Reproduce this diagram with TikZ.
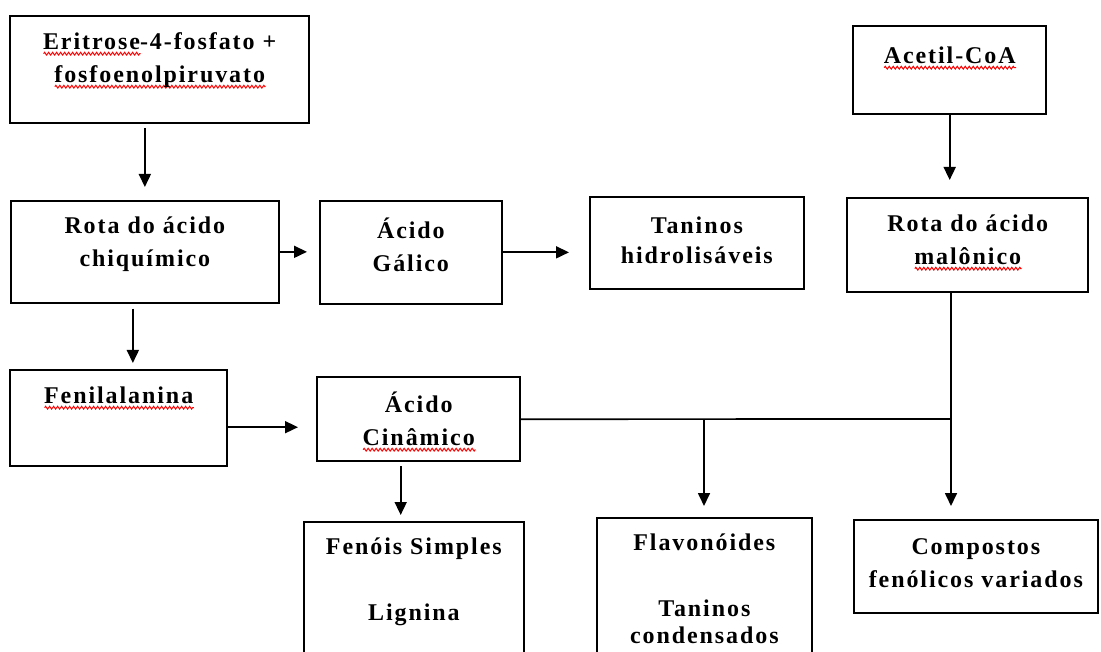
\documentclass[tikz,border=0pt]{standalone}
\usepackage{fontspec}
\setmainfont{Liberation Serif}[LetterSpace=8]
\usetikzlibrary{arrows.meta, decorations.pathmorphing}
\newcommand{\redwave}[1]{\setbox0=\hbox{#1}\edef\wavelen{\the\wd0}\leavevmode\rlap{\tikz[baseline=0pt]\draw[red, line width=1pt, decorate, decoration={zigzag, amplitude=1.4pt, segment length=4pt}] (0pt,-4.5pt) -- (\wavelen,-4.5pt);}\box0}
\begin{document}
\begin{tikzpicture}[x=1pt, y=-1pt, line width=1.7pt,
  bx/.style={draw, anchor=north west, align=center, inner xsep=4pt, inner ysep=17pt,
    text height=16pt, font=\bfseries\fontsize{24}{33}\selectfont},
  arr/.style={-{Triangle[length=13pt,width=12pt]}}]
\useasboundingbox (0,0) rectangle (1101,652);
\clip (0,0) rectangle (1101,652);
\fill[white] (0,0) rectangle (1101,652);
\node[bx, text width=291pt, text depth=57pt] (B_0_0) at (10,16) {\redwave{Eritrose}-4-fosfato +\\\redwave{fosfoenolpiruvato}};
\node[bx, text width=185pt, text height=20pt, text depth=34pt] (B_0_3) at (853,26) {\redwave{Acetil-CoA}};
\node[bx, text width=260pt, text depth=52pt] (B_1_0) at (10,200) {Rota do ácido\\chiquímico};
\node[bx, text width=174pt, text height=21pt, text depth=48pt] (B_1_1) at (319,200) {Ácido\\Gálico};
\node[bx, text width=206pt, text height=20pt, text depth=38pt] (B_1_2) at (589,196) {Taninos\\[-3pt]hidrolisáveis};
\node[bx, text width=233pt, text depth=44pt] (B_1_3) at (847,198) {Rota do ácido\\\redwave{malônico}};
\node[bx, text width=209pt, text depth=46pt] (B_2_0) at (10,370) {\redwave{Fenilalanina}};
\node[bx, text width=195pt, text height=18pt, text depth=32pt] (B_2_1) at (317,377) {Ácido\\\redwave{Cinâmico}};
\node[bx, text width=212pt, text depth=89pt] (B_3_1) at (303,521) {Fenóis Simples\\[33pt]Lignina};
\node[bx, text width=207pt, text depth=93pt] (B_3_2) at (596,517) {Flavonóides\\[33pt]Taninos\\[-6pt]condensados};
\node[bx, text width=236pt, text height=18pt, text depth=41pt] (B_3_3) at (853,519) {Compostos\\fenólicos variados};
\coordinate (J_2_2) at (704,419);
\coordinate (J_2_3) at (951,419);
\draw[arr, shorten <=5pt, shorten >=13pt] (B_0_0.south -| B_1_0.north) -- (B_1_0.north);
\draw[arr, shorten >=18pt] (B_0_3.south) -- (B_0_3.south |- B_1_3.north);
\draw[arr, shorten >=12pt] (B_1_0.east) -- (B_1_0.east -| B_1_1.west);
\draw[arr, shorten >=20pt] (B_1_1.east) -- (B_1_1.east -| B_1_2.west);
\draw[arr, shorten <=5pt, shorten >=7pt] ([xshift=-12pt]B_1_0.south) -- ([xshift=-12pt]B_1_0.south |- B_2_0.north);
\draw[arr, shorten >=19pt] ([yshift=-9pt]B_2_0.east) -- ([yshift=-9pt]B_2_0.east -| B_2_1.west);
\draw[arr, shorten <=5pt, shorten >=6pt] ([xshift=-18pt]B_2_1.south) -- ([xshift=-18pt]B_2_1.south |- B_3_1.north);
\draw (B_2_1.east) -- (J_2_3);
\draw (B_1_3.south -| J_2_3) -- (J_2_3);
\draw[arr, shorten >=13pt] (J_2_3) -- (J_2_3 |- B_3_3.north);
\draw[arr, shorten >=11pt] (J_2_2) -- (J_2_2 |- B_3_2.north);
\end{tikzpicture}
\end{document}
